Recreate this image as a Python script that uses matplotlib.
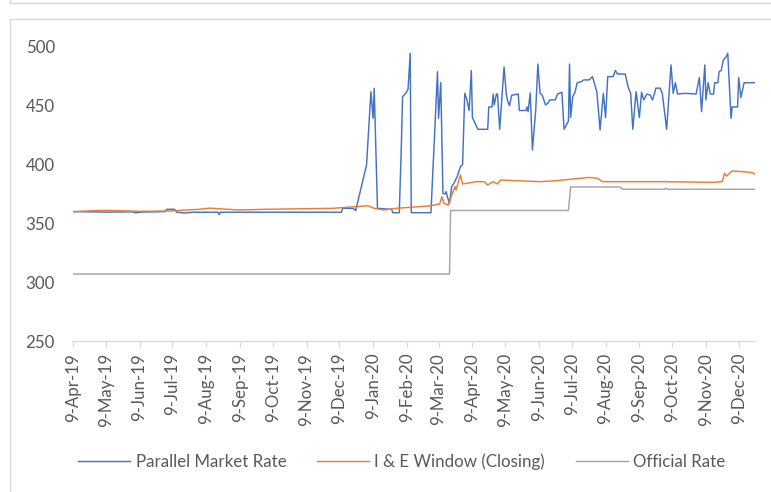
import matplotlib
matplotlib.use("Agg")
import matplotlib.pyplot as plt
import matplotlib.dates as mdates
from matplotlib.patches import Rectangle
from matplotlib.lines import Line2D
import pandas as pd

# Naira / USD exchange rates, Apr 2019 - Dec 2020
parallel_dates = [
    "2019-04-09", "2019-05-10", "2019-06-03", "2019-06-05", "2019-06-10",
    "2019-07-02", "2019-07-04", "2019-07-11", "2019-07-13", "2019-07-20",
    "2019-07-28", "2019-08-20", "2019-08-21", "2019-08-22", "2019-12-11",
    "2019-12-12", "2019-12-21", "2019-12-23", "2019-12-24", "2020-01-03",
    "2020-01-07", "2020-01-09", "2020-01-10", "2020-01-13", "2020-01-26",
    "2020-01-27", "2020-02-02", "2020-02-04", "2020-02-05", "2020-02-08",
    "2020-02-10", "2020-02-12", "2020-02-13", "2020-03-02", "2020-03-08",
    "2020-03-09", "2020-03-11", "2020-03-13", "2020-03-15", "2020-03-16",
    "2020-03-17", "2020-03-19", "2020-03-21", "2020-03-23", "2020-03-26",
    "2020-03-29", "2020-03-31", "2020-04-02", "2020-04-04", "2020-04-06",
    "2020-04-08", "2020-04-09", "2020-04-14", "2020-04-23", "2020-04-24",
    "2020-04-27", "2020-04-28", "2020-04-29", "2020-05-01", "2020-05-02",
    "2020-05-04", "2020-05-08", "2020-05-10", "2020-05-11", "2020-05-13",
    "2020-05-15", "2020-05-21", "2020-05-22", "2020-05-28", "2020-05-29",
    "2020-05-30", "2020-06-01", "2020-06-03", "2020-06-06", "2020-06-08",
    "2020-06-10", "2020-06-12", "2020-06-15", "2020-06-17", "2020-06-19",
    "2020-06-24", "2020-06-26", "2020-06-30", "2020-07-02", "2020-07-06",
    "2020-07-07", "2020-07-08", "2020-07-10", "2020-07-12", "2020-07-14",
    "2020-07-18", "2020-07-20", "2020-07-25", "2020-07-28", "2020-08-01",
    "2020-08-04", "2020-08-07", "2020-08-09", "2020-08-11", "2020-08-16",
    "2020-08-18", "2020-08-20", "2020-08-27", "2020-08-30", "2020-09-01",
    "2020-09-03", "2020-09-06", "2020-09-09", "2020-09-11", "2020-09-13",
    "2020-09-16", "2020-09-19", "2020-09-21", "2020-09-23", "2020-09-24",
    "2020-09-28", "2020-09-30", "2020-10-04", "2020-10-08", "2020-10-10",
    "2020-10-12", "2020-10-14", "2020-10-21", "2020-10-31", "2020-11-03",
    "2020-11-05", "2020-11-08", "2020-11-09", "2020-11-11", "2020-11-13",
    "2020-11-16", "2020-11-17", "2020-11-20", "2020-11-21", "2020-11-23",
    "2020-11-25", "2020-11-27", "2020-11-29", "2020-12-02", "2020-12-03",
    "2020-12-08", "2020-12-09", "2020-12-11", "2020-12-14", "2020-12-24",
]
parallel_rates = [
    360.0, 359.6, 359.8, 359.0, 359.6,
    360.0, 362.0, 362.0, 359.5, 358.8,
    359.5, 359.5, 357.5, 359.5, 359.5,
    362.8, 362.8, 362.0, 360.8, 399.7,
    462.0, 439.4, 464.9, 362.8, 362.0,
    359.1, 359.1, 420.0, 457.8, 460.6,
    464.0, 494.6, 359.1, 359.1, 479.0,
    439.4, 469.7, 375.6, 375.0, 377.0,
    372.7, 367.0, 381.2, 384.0, 389.7,
    398.2, 400.0, 460.6, 455.0, 446.0,
    480.0, 440.0, 430.0, 430.0, 449.0,
    449.0, 460.0, 450.7, 460.0, 460.0,
    430.0, 483.0, 460.6, 455.0, 450.0,
    459.0, 460.0, 446.0, 446.0, 449.0,
    445.0, 461.0, 412.4, 446.0, 485.5,
    460.6, 459.0, 450.7, 452.0, 455.0,
    455.0, 460.0, 461.5, 430.0, 437.0,
    485.5, 440.0, 458.0, 461.5, 469.6,
    470.5, 472.0, 472.0, 474.8, 462.0,
    429.4, 460.6, 440.0, 474.8, 474.8,
    480.0, 477.0, 477.0, 465.0, 460.6,
    430.0, 462.0, 440.0, 461.5, 455.0,
    460.0, 459.0, 455.0, 460.6, 465.0,
    465.0, 460.6, 430.0, 484.7, 460.6,
    469.6, 460.0, 460.6, 460.0, 474.0,
    445.0, 484.7, 455.0, 469.6, 460.0,
    460.0, 469.6, 469.6, 479.0, 480.0,
    489.0, 491.0, 494.6, 439.4, 449.0,
    449.0, 474.0, 457.0, 469.6, 469.6,
]

window_dates = [
    "2019-04-09", "2019-05-03", "2019-05-13", "2019-06-09", "2019-07-06",
    "2019-08-03", "2019-08-12", "2019-09-08", "2019-10-03", "2019-11-02",
    "2019-12-03", "2019-12-24", "2020-01-04", "2020-01-10", "2020-01-19",
    "2020-01-30", "2020-02-12", "2020-02-29", "2020-03-10", "2020-03-12",
    "2020-03-14", "2020-03-18", "2020-03-21", "2020-03-24", "2020-03-25",
    "2020-03-29", "2020-03-31", "2020-04-13", "2020-04-20", "2020-04-23",
    "2020-04-28", "2020-05-02", "2020-05-05", "2020-05-19", "2020-06-10",
    "2020-06-25", "2020-07-16", "2020-07-25", "2020-08-02", "2020-08-06",
    "2020-08-31", "2020-10-01", "2020-11-16", "2020-11-24", "2020-11-26",
    "2020-11-28", "2020-12-03", "2020-12-13", "2020-12-22", "2020-12-24",
]
window_rates = [
    360.0, 361.0, 361.0, 360.3, 360.5,
    362.0, 363.0, 361.4, 362.0, 362.4,
    362.8, 364.2, 365.0, 362.8, 361.4,
    362.8, 363.7, 364.8, 366.5, 372.7,
    367.0, 365.6, 374.0, 381.2, 378.4,
    391.2, 383.5, 385.5, 385.5, 382.6,
    385.5, 383.5, 386.9, 386.3, 385.5,
    386.3, 388.3, 389.1, 388.3, 385.5,
    385.5, 385.5, 384.9, 385.5, 392.6,
    390.3, 394.6, 394.0, 393.1, 391.7,
]

official_dates = [
    "2019-04-09", "2020-03-19", "2020-03-20", "2020-07-06", "2020-07-08",
    "2020-08-22", "2020-08-25", "2020-10-02", "2020-10-03", "2020-10-05",
    "2020-12-24",
]
official_rates = [
    306.9, 306.9, 361.0, 361.0, 381.0,
    381.0, 379.0, 379.0, 380.0, 379.0,
    379.0,
]

tick_dates = [
    "2019-04-09", "2019-05-09", "2019-06-09", "2019-07-09", "2019-08-09",
    "2019-09-09", "2019-10-09", "2019-11-09", "2019-12-09", "2020-01-09",
    "2020-02-09", "2020-03-09", "2020-04-09", "2020-05-09", "2020-06-09",
    "2020-07-09", "2020-08-09", "2020-09-09", "2020-10-09", "2020-11-09",
    "2020-12-09",
]
tick_labels = [
    "9-Apr-19", "9-May-19", "9-Jun-19", "9-Jul-19", "9-Aug-19",
    "9-Sep-19", "9-Oct-19", "9-Nov-19", "9-Dec-19", "9-Jan-20",
    "9-Feb-20", "9-Mar-20", "9-Apr-20", "9-May-20", "9-Jun-20",
    "9-Jul-20", "9-Aug-20", "9-Sep-20", "9-Oct-20", "9-Nov-20",
    "9-Dec-20",
]
y_ticks = [250, 300, 350, 400, 450, 500]

TEXT = "#595959"
FRAME = "#D9D9D9"
FONT_SIZE = 12.2


def main():
    plt.rcParams["font.family"] = ["Lato", "DejaVu Sans"]
    fig = plt.figure(figsize=(7.71, 4.92), dpi=100)
    ax = fig.add_axes([0.0947, 0.3069, 0.8846, 0.5976])

    ax.plot(pd.to_datetime(parallel_dates), parallel_rates, color="#4472C4",
            lw=1.05, label="Parallel Market Rate")
    ax.plot(pd.to_datetime(window_dates), window_rates, color="#ED7D31",
            lw=1.05, label="I & E Window (Closing)")
    ax.plot(pd.to_datetime(official_dates), official_rates, color="#A5A5A5",
            lw=1.05, label="Official Rate")

    ax.set_xlim(pd.Timestamp("2019-04-09"), pd.Timestamp("2020-12-24"))
    ax.set_ylim(250, 500)
    ax.set_yticks(y_ticks)
    ax.set_xticks(mdates.date2num(pd.to_datetime(tick_dates)))
    ax.set_xticklabels(tick_labels, rotation=90)

    for side in ["top", "right", "left"]:
        ax.spines[side].set_visible(False)
    ax.spines["bottom"].set_color(FRAME)
    ax.spines["bottom"].set_linewidth(0.9)
    ax.tick_params(axis="x", direction="out", length=4, width=0.9,
                   color=FRAME, labelcolor=TEXT, labelsize=FONT_SIZE, pad=4.5)
    ax.tick_params(axis="y", length=0, labelcolor=TEXT, labelsize=FONT_SIZE,
                   pad=13)

    fig.legend(loc="center", bbox_to_anchor=(0.521, 0.061), ncol=3,
               frameon=False, fontsize=FONT_SIZE, labelcolor=TEXT,
               handlelength=3.1, handletextpad=0.3, columnspacing=1.8)

    # outline of the chart box, plus the edge of the box above it
    fig.add_artist(Rectangle((10 / 771, -0.2), 2, 1.2 - 18.5 / 492,
                             transform=fig.transFigure, fill=False,
                             edgecolor=FRAME, lw=1.0))
    fig.add_artist(Line2D([10 / 771, 1.0], [1 - 3.3 / 492, 1 - 3.3 / 492],
                          transform=fig.transFigure, color=FRAME, lw=1.0))
    fig.add_artist(Line2D([10 / 771, 10 / 771], [1 - 3.3 / 492, 1.0],
                          transform=fig.transFigure, color=FRAME, lw=1.0))

    fig.savefig("out.png", dpi=100)


if __name__ == "__main__":
    main()
